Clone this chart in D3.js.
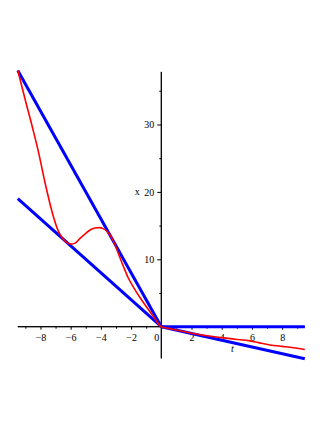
<!DOCTYPE html>
<meta charset="utf-8">
<head>
  <script src="https://d3js.org/d3.v7.min.js"></script>
  <style>
    body { margin: 0; background: #fff; }
    .tick text, .lbl { font-family: "Liberation Serif", "DejaVu Serif", serif; font-size: 10px; fill: #000; }
    .domain { stroke: #000; stroke-width: 1; }
    .tick line { stroke: #000; }
  </style>
</head>
<body>
<script>
  // red curve
  var tVals = [-9.5, -9.0, -8.5, -8.13, -7.7, -7.15, -6.8, -6.5, -6.2, -6.0, -5.7, -5.38, -5.0, -4.72, -4.4, -4.11, -3.85, -3.62, -3.4, -3.18, -2.95, -2.75, -2.5, -2.2, -1.8, -1.4, -1.0, -0.5, 0,
               0.5, 1.0, 1.79, 2.9, 4.0, 4.88, 5.87, 6.5, 7.19, 8.0, 8.52, 9.0, 9.5];
  var xVals = [38.0, 33.6, 29.3, 25.9, 21.4, 16.4, 14.1, 13.0, 12.4, 12.25, 12.4, 13.1, 13.85, 14.35, 14.65, 14.7, 14.55, 14.2, 13.6, 12.75, 11.5, 10.3, 8.9, 7.3, 5.7, 4.3, 3.0, 1.45, 0,
               -0.25, -0.5, -0.86, -1.3, -1.62, -1.85, -2.1, -2.4, -2.7, -2.92, -3.05, -3.2, -3.38];

  // blue bounding lines: [t0, x0, t1, x1]
  var lineUpper = [-9.5, 38.0, 0, 0];
  var lineLower = [-9.5, 19.0, 0, 0];
  var lineZero = [0, 0, 9.5, 0];
  var lineRight = [0, 0, 9.5, -4.75];

  var xMajor = [-8, -6, -4, -2, 2, 4, 6, 8];
  var xMinor = [-9, -7, -5, -3, -1, 1, 3, 5, 7, 9];
  var yMajor = [10, 20, 30];
  var yMinor = [5, 15, 25, 35];

  var width = 332, height = 430;

  var x = d3.scaleLinear().domain([-9.5, 9.5]).range([17.8, 304.8]);
  var y = d3.scaleLinear().domain([-4.7, 37.8]).range([358.4, 71.9]);

  var svg = d3.select("body").append("svg")
    .attr("width", width)
    .attr("height", height);

  // axes through the origin
  var gx = svg.append("g").attr("transform", "translate(0," + y(0) + ")");
  gx.call(d3.axisBottom(x).tickValues(xMinor).tickSize(2).tickFormat(""));
  gx.append("g").call(d3.axisBottom(x).tickValues(xMajor).tickSize(3).tickPadding(4)
      .tickFormat(function(d) { return d < 0 ? "\u2212" + (-d) : d; }));
  gx.selectAll(".domain").attr("d", "M" + x(-9.5) + ",0H" + x(9.5));

  var gy = svg.append("g").attr("transform", "translate(" + x(0) + ",0)");
  gy.call(d3.axisLeft(y).tickValues(yMinor).tickSize(2).tickFormat(""));
  gy.append("g").call(d3.axisLeft(y).tickValues(yMajor).tickSize(4).tickPadding(3));
  gy.selectAll(".domain").attr("d", "M0," + y(-4.7) + "V" + y(37.8));

  svg.append("text").attr("class", "lbl")
    .attr("x", x(0) - 2).attr("y", y(0) + 14)
    .attr("text-anchor", "end").text("0");

  svg.append("text").attr("class", "lbl")
    .attr("x", x(4.7)).attr("y", y(-3.8))
    .attr("text-anchor", "middle").style("font-style", "italic").text("t");

  svg.append("text").attr("class", "lbl")
    .attr("x", x(-1.6)).attr("y", y(19.5))
    .attr("text-anchor", "middle").text("x");

  // blue lines
  [lineUpper, lineLower, lineZero, lineRight].forEach(function(l) {
    svg.append("line")
      .attr("x1", x(l[0])).attr("y1", y(l[1]))
      .attr("x2", x(l[2])).attr("y2", y(l[3]))
      .attr("stroke", "#0000ff")
      .attr("stroke-width", 3);
  });

  // red curve
  var pts = tVals.map(function(t, i) { return [t, xVals[i]]; });
  svg.append("path")
    .datum(pts)
    .attr("fill", "none")
    .attr("stroke", "#ff0000")
    .attr("stroke-width", 1.6)
    .attr("d", d3.line()
      .x(function(d) { return x(d[0]); })
      .y(function(d) { return y(d[1]); })
      .curve(d3.curveMonotoneX));
</script>
</body>
</html>
